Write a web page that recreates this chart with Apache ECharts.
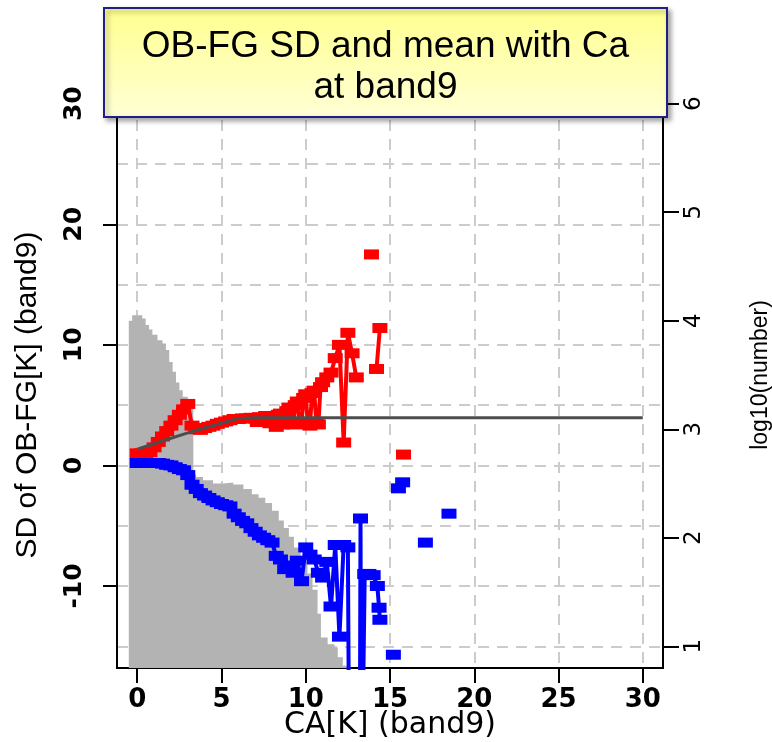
<!DOCTYPE html>
<html>
<head>
<meta charset="utf-8">
<script src="https://cdn.jsdelivr.net/npm/echarts@6/dist/echarts.min.js"></script>
<style>
html,body{margin:0;padding:0;background:#fff;}
#chart{width:772px;height:742px;}
</style>
</head>
<body>
<div id="chart"></div>
<script>
// ---- data ----
const xTicks = [0, 5, 10, 15, 20, 25, 30];
const leftTicks = [-10, 0, 10, 20, 30];
const leftGrid = [-15, -10, -5, 0, 5, 10, 15, 20, 25, 30];
const rightTicks = [1, 2, 3, 4, 5, 6];

// histogram: left bin edge (CA) and log10(number)
const histX = [-0.5,-0.3,0.0,0.3,0.5,0.7,0.9,1.2,1.5,1.7,1.9,2.1,2.3,2.5,2.7,3.0,3.33,3.5,3.9,4.5,5.1,5.7,6.3,6.8,7.2,7.6,8.0,8.4,8.7,9.0,9.3,9.7,10.1,10.4,10.7,10.9,11.3,11.7,11.9,12.2,12.5];
const histLog = [4.00,4.05,4.05,4.02,3.96,3.92,3.87,3.82,3.79,3.73,3.62,3.53,3.43,3.36,3.30,3.27,2.58,2.56,2.53,2.50,2.51,2.49,2.45,2.40,2.37,2.32,2.25,2.16,2.09,2.01,1.91,1.82,1.67,1.52,1.30,1.08,1.02,0.99,0.90,0.82,0.60];

// SD of OB-FG (red)
const sdX = [0,0.25,0.5,0.75,1.0,1.25,1.5,1.75,2.0,2.25,2.5,2.75,3.0,3.25,3.5,3.75,4.0,4.25,4.5,4.75,5.0,5.25,5.5,5.75,6.0,6.25,6.5,6.75,
  7.0,7.125,7.25,7.375,7.5,7.625,7.75,7.875,8.0,8.125,8.25,8.375,8.5,8.625,8.75,8.875,9.0,9.125,9.25,9.375,9.5,9.625,9.75,9.875,10.0,10.125,10.25,10.375,10.5,10.625,10.75,10.875,11.0,
  11.25,11.5,11.75,12.0,12.25,12.5,12.75,13.0,13.5,13.9,14.0,14.2,14.4,15.0,15.8];
const sdVal = [1.0,1.0,1.0,1.1,1.5,1.95,2.4,2.85,3.3,3.75,4.2,4.65,5.1,3.3,3.0,2.95,3.1,3.2,3.3,3.45,3.55,3.65,3.75,3.85,3.85,3.9,3.9,3.95,
  3.9,3.6,4.0,3.7,3.7,4.1,4.1,3.5,4.1,3.6,3.2,4.2,4.3,3.4,3.8,4.5,4.8,3.5,3.4,5.0,5.3,3.6,3.5,5.6,5.9,3.4,3.3,6.0,6.2,3.5,3.4,6.5,6.9,
  7.3,7.7,8.9,10.0,1.9,11.0,9.3,7.3,null,17.5,null,8.0,11.4,null,0.9];

// mean of OB-FG (blue)
const meanX = [0,0.25,0.5,0.75,1.0,1.25,1.5,1.75,2.0,2.25,2.5,2.75,3.0,3.25,3.5,3.75,4.0,4.25,4.5,4.75,5.0,5.25,5.5,5.75,6.0,6.25,6.5,6.75,7.0,7.25,7.5,7.75,8.0,8.25,8.5,8.75,9.0,9.25,9.5,9.75,10.0,10.25,10.5,10.75,11.0,11.25,11.5,11.75,12.0,12.25,12.5,12.6,13.2,13.25,13.3,13.5,13.75,14.0,14.25,14.35,14.4,14.75,15.2,15.35,15.5,15.75,16.5,17.1,17.8,18.5];
const meanVal = [0.2,0.2,0.2,0.2,0.2,0.2,0.15,0.05,0.0,-0.15,-0.3,-0.4,-0.8,-1.6,-1.95,-2.3,-2.5,-2.7,-2.9,-3.05,-3.2,-3.3,-3.4,-4.0,-4.3,-4.6,-4.8,-5.2,-5.5,-5.8,-6.0,-6.2,-6.4,-7.5,-7.8,-8.6,-8.3,-8.9,-7.9,-9.6,-6.8,-7.4,-7.8,-8.9,-9.3,-8.0,-11.7,-6.6,-14.2,-6.6,-6.8,-30,-30,-4.4,-30,-9.0,-9.0,-9.1,-10.0,-11.8,-12.8,null,-15.7,null,-1.9,-1.4,null,-6.4,null,-4.0];

// model SD curve (dark grey)
const curveX = [0,1,2,3,4,5,6,7,30];
const curveVal = [1.35,1.8,2.25,2.7,3.1,3.5,3.9,3.95,3.95];

const pairs = (xs, ys) => xs.map((x, i) => [x, ys[i] === null ? '-' : ys[i]]);

const chart = echarts.init(document.getElementById('chart'), null, {renderer: 'canvas'});

const tickFont = {fontFamily: 'DejaVu Sans', fontWeight: 'bold', color: '#000'};

chart.setOption({
  animation: false,
  backgroundColor: '#ffffff',
  grid: {left: 117, right: 109, top: 82, bottom: 74, containLabel: false, outerBoundsMode: 'none',
         show: true, borderColor: '#000', borderWidth: 2, backgroundColor: 'transparent'},
  xAxis: {
    type: 'value', min: -1.2, max: 31.2,
    axisLine: {show: true, onZero: false, lineStyle: {color: '#000', width: 2}},
    axisTick: {show: true, customValues: xTicks, length: 15, lineStyle: {color: '#000', width: 2}},
    axisLabel: Object.assign({customValues: xTicks, fontSize: 26, margin: 19}, tickFont),
    splitLine: {show: true, lineStyle: {color: '#cccccc', width: 2, type: [11, 8]}},
    name: 'CA[K] (band9)', nameLocation: 'middle', nameGap: 42, nameMoveOverlap: false,
    nameTextStyle: {fontFamily: 'DejaVu Sans', fontSize: 30, color: '#000'}
  },
  yAxis: [
    {
      type: 'value', position: 'left', min: -16.8, max: 31.8,
      axisLine: {show: true, onZero: false, lineStyle: {color: '#000', width: 2}},
      axisTick: {show: true, customValues: leftTicks, length: 14, lineStyle: {color: '#000', width: 2}},
      axisLabel: Object.assign({customValues: leftTicks, rotate: 90, fontSize: 25, margin: 30}, tickFont),
      splitLine: {show: false},
      name: 'SD of OB-FG[K] (band9)', nameLocation: 'middle', nameGap: 74, nameRotate: 90, nameMoveOverlap: false,
      nameTextStyle: {fontFamily: 'Liberation Sans', fontSize: 30, color: '#000', padding: [0, 40, 0, 0]}
    },
    {
      type: 'value', position: 'right', min: 0.8, max: 6.2,
      axisLine: {show: true, onZero: false, lineStyle: {color: '#000', width: 2}},
      axisTick: {show: true, customValues: rightTicks, length: 16, lineStyle: {color: '#000', width: 2}},
      axisLabel: {customValues: rightTicks, rotate: 90, fontSize: 23, margin: 20, fontFamily: 'DejaVu Sans', color: '#000'},
      splitLine: {show: false},
      name: 'log10(number)', nameLocation: 'middle', nameGap: 86, nameRotate: 90, nameMoveOverlap: false,
      nameTextStyle: {fontFamily: 'Liberation Sans', fontSize: 23, color: '#000'}
    },
    {
      type: 'value', position: 'left', min: -16.8, max: 31.8,
      axisLine: {show: false}, axisLabel: {show: false},
      axisTick: {show: false, customValues: leftGrid},
      splitLine: {show: true, lineStyle: {color: '#cccccc', width: 2, type: [11, 8]}}
    }
  ],
  series: [
    {
      name: 'hist', type: 'line', yAxisIndex: 1, step: 'end', symbol: 'none',
      data: pairs(histX, histLog),
      lineStyle: {width: 0, color: '#b3b3b3'},
      areaStyle: {color: '#b3b3b3', opacity: 1, origin: 'start'},
      z: 1
    },
    {
      name: 'SD', type: 'line', yAxisIndex: 0, data: pairs(sdX, sdVal),
      symbol: 'rect', symbolSize: [15, 10], showAllSymbol: true, connectNulls: false,
      itemStyle: {color: '#ff0000'}, lineStyle: {color: '#ff0000', width: 4}, z: 3
    },
    {
      name: 'mean', type: 'line', yAxisIndex: 0, data: pairs(meanX, meanVal),
      symbol: 'rect', symbolSize: [15, 10], showAllSymbol: true, connectNulls: false,
      itemStyle: {color: '#0000ff'}, lineStyle: {color: '#0000ff', width: 4}, z: 3
    },
    {
      name: 'model', type: 'line', yAxisIndex: 0, data: pairs(curveX, curveVal),
      symbol: 'none', lineStyle: {color: '#4d4d4d', width: 3}, z: 4
    }
  ],
  graphic: [
    {
      type: 'rect', z: 100,
      shape: {x: 104, y: 8, width: 563, height: 109},
      style: {
        fill: {type: 'linear', x: 0, y: 0, x2: 0, y2: 1, colorStops: [{offset: 0, color: '#ffff8f'}, {offset: 1, color: '#ffffd6'}]},
        stroke: '#1f1f86', lineWidth: 2,
        shadowBlur: 5, shadowOffsetX: 3, shadowOffsetY: 3, shadowColor: 'rgba(0,0,0,0.35)'
      }
    },
    {
      type: 'text', z: 101, x: 385.5, y: 67,
      style: {
        text: 'OB-FG SD and mean with Ca\nat band9',
        fontFamily: 'Liberation Sans', fontSize: 37, lineHeight: 41,
        fill: '#000', align: 'center', verticalAlign: 'middle'
      }
    }
  ]
});
</script>
</body>
</html>
